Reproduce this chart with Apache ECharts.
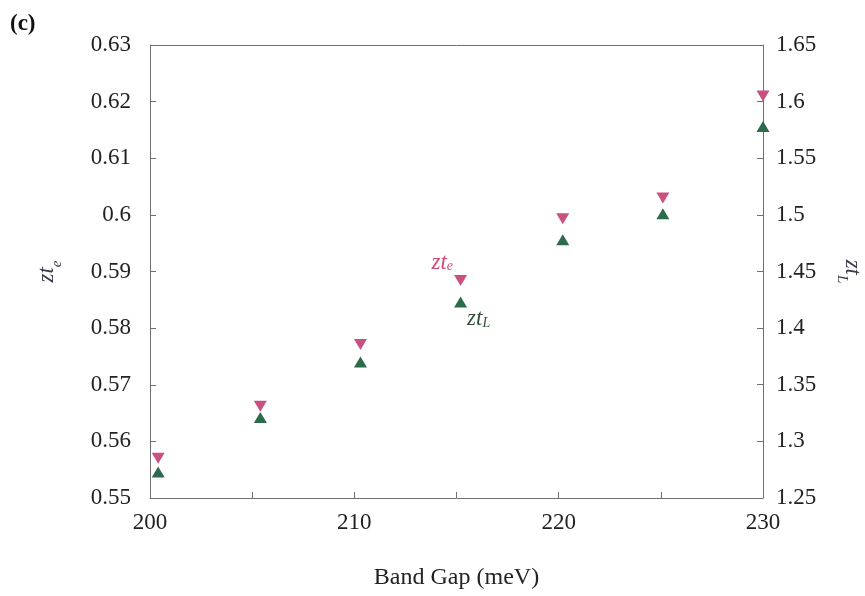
<!DOCTYPE html>
<html>
<head>
<meta charset="utf-8">
<script src="https://cdn.jsdelivr.net/npm/echarts@6/dist/echarts.min.js"></script>
<style>
html,body{margin:0;padding:0;background:#fff;}
#c{width:865px;height:596px;}
</style>
</head>
<body>
<div id="c"></div>
<script>
// Band gap (meV) for each point
const bandGap = [200.4, 205.4, 210.3, 215.2, 220.2, 225.1, 230.0];
// zt_e values (left axis)
const ztE = [0.5570, 0.5662, 0.5771, 0.5884, 0.5993, 0.6030, 0.6210];
// zt_L values (right axis)
const ztL = [1.273, 1.321, 1.370, 1.423, 1.478, 1.501, 1.578];
const leftTicks = {min: 0.55, max: 0.63, interval: 0.01};
const rightTicks = {min: 1.25, max: 1.65, interval: 0.05};
const xTicks = {min: 200, max: 230, interval: 5, labelEvery: 10};

const FONT = '"Liberation Serif", "DejaVu Serif", serif';
const PINK = '#c9507f';
const GREEN = '#2b6b4c';
const AX = '#707070';
const FS = 23;

const chart = echarts.init(document.getElementById('c'));
const nameRich = {
  b: {fontFamily: FONT, fontStyle: 'italic', fontSize: 23, color: '#3a3a4a'},
  s: {fontFamily: FONT, fontStyle: 'italic', fontSize: 15, color: '#3a3a4a', verticalAlign: 'bottom', padding: [0,0,-7,0]}
};
const labelAt = 3; // index of annotated points

chart.setOption({
  animation: false,
  backgroundColor: '#fff',
  graphic: [{type: 'text', left: 10, top: 13, style: {text: '(c)', font: 'bold 23px ' + FONT, fill: '#111'}}],
  grid: {left: 150, right: 102, top: 45, bottom: 98, show: false, outerBoundsMode: 'none', containLabel: false},
  xAxis: {
    type: 'value', min: xTicks.min, max: xTicks.max, interval: xTicks.interval,
    name: 'Band Gap (meV)', nameLocation: 'middle', nameGap: 68,
    nameTextStyle: {fontFamily: FONT, fontSize: 24, color: '#222'},
    axisLine: {show: true, lineStyle: {color: AX, width: 1}},
    axisTick: {show: true, inside: true, length: 6, lineStyle: {color: AX}},
    axisLabel: {fontFamily: FONT, fontSize: FS, color: '#222', margin: 13,
      formatter: v => (Math.round(v) % xTicks.labelEvery === 0 ? String(Math.round(v)) : '')},
    splitLine: {show: false}
  },
  yAxis: [{
    type: 'value', position: 'left', min: leftTicks.min, max: leftTicks.max, interval: leftTicks.interval,
    name: '{b|zt}{s|e}', nameLocation: 'middle', nameGap: 92, nameRotate: 90,
    nameTextStyle: {rich: nameRich},
    axisLine: {show: true, lineStyle: {color: AX}},
    axisTick: {show: true, inside: true, length: 6, lineStyle: {color: AX}},
    axisLabel: {fontFamily: FONT, fontSize: FS, color: '#222', margin: 19,
      formatter: v => String(parseFloat(v.toFixed(2)))},
    splitLine: {show: false}
  }, {
    type: 'value', position: 'right', min: rightTicks.min, max: rightTicks.max, interval: rightTicks.interval,
    name: '{b|zt}{s|L}', nameLocation: 'middle', nameGap: 78, nameRotate: -90,
    nameTextStyle: {rich: nameRich},
    axisLine: {show: true, lineStyle: {color: AX}},
    axisTick: {show: true, inside: true, length: 6, lineStyle: {color: AX}},
    axisLabel: {fontFamily: FONT, fontSize: FS, color: '#222', margin: 13,
      formatter: v => String(parseFloat(v.toFixed(2)))},
    splitLine: {show: false}
  }],
  series: [{
    type: 'line', yAxisIndex: 0, lineStyle: {width: 0}, symbol: 'triangle', symbolRotate: 180,
    symbolSize: [13, 11], itemStyle: {color: PINK}, z: 3,
    data: bandGap.map((x, i) => {
      const d = {value: [x, ztE[i]]};
      if (i === labelAt) d.label = {show: true, position: 'left', offset: [4, -18],
        formatter: '{b|zt}{s|e}', rich: {
          b: {fontFamily: FONT, fontStyle: 'italic', fontSize: 23, color: '#d04a78'},
          s: {fontFamily: FONT, fontStyle: 'italic', fontSize: 14, color: '#d04a78', padding: [0,0,-8,0]}}};
      return d;
    })
  }, {
    type: 'line', yAxisIndex: 1, lineStyle: {width: 0}, symbol: 'triangle',
    symbolSize: [13, 11], itemStyle: {color: GREEN}, z: 4,
    data: bandGap.map((x, i) => {
      const d = {value: [x, ztL[i]]};
      if (i === labelAt) d.label = {show: true, position: 'right', offset: [-5, 17],
        formatter: '{b|zt}{s|L}', rich: {
          b: {fontFamily: FONT, fontStyle: 'italic', fontSize: 23, color: '#34503a'},
          s: {fontFamily: FONT, fontStyle: 'italic', fontSize: 14, color: '#34503a', padding: [0,0,-8,0]}}};
      return d;
    })
  }, {
    // top frame line
    type: 'line', xAxisIndex: 0, yAxisIndex: 0, symbol: 'none', silent: true, data: [],
    markLine: {silent: true, symbol: 'none', label: {show: false},
      lineStyle: {color: AX, type: 'solid', width: 1}, data: [{yAxis: leftTicks.max}]}
  }]
});
</script>
</body>
</html>
